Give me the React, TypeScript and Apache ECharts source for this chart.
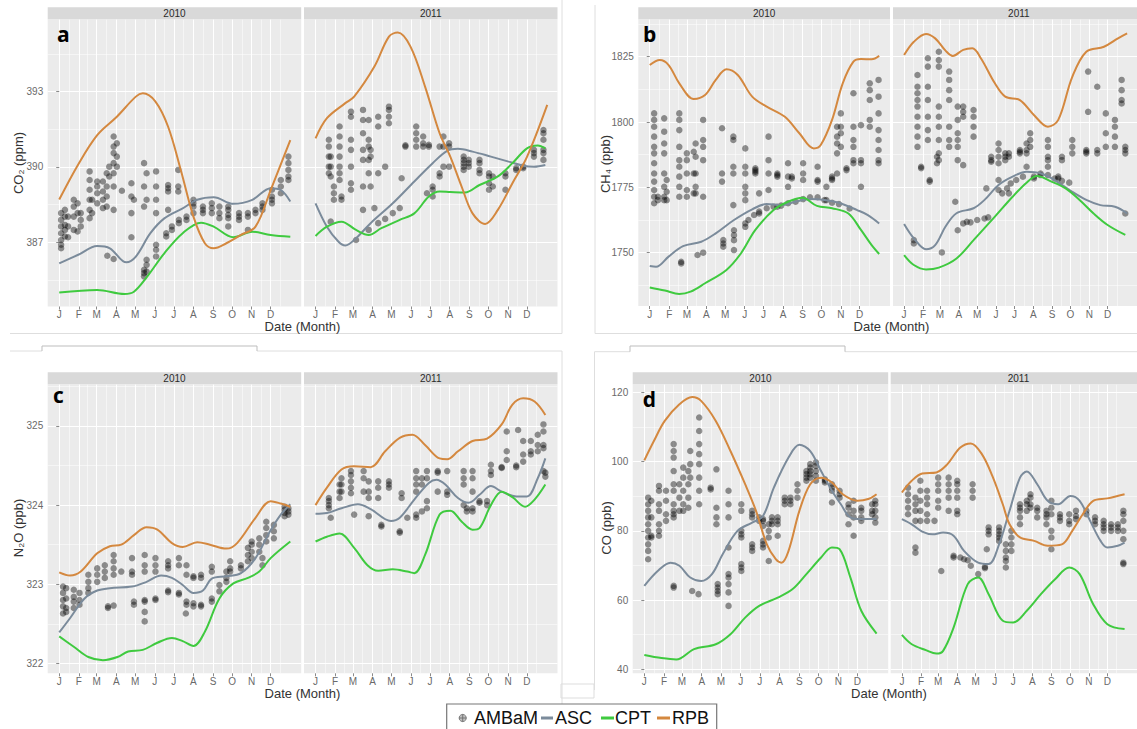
import React, { useEffect, useRef } from "react";
import * as echarts from "echarts";

// ---------- axis vocab ----------
const MONTH_LABELS = ["J", "F", "M", "A", "M", "J", "J", "A", "S", "O", "N", "D"];
const MONTH_DAYS = [0, 31, 59, 90, 120, 151, 181, 212, 243, 273, 304, 334];
const MINOR_DAYS = [15.5, 45, 74.5, 105, 135.5, 166, 196.5, 227.5, 258, 288.5, 319, 349];
const YEARS = ["2010", "2011"];

const CO2_TICKS = [387, 390, 393];
const CO2_MINOR = [385.5, 388.5, 391.5, 394.5];
const CH4_TICKS = [1750, 1775, 1800, 1825];
const CH4_MINOR = [1737.5, 1762.5, 1787.5, 1812.5, 1837.5];
const N2O_TICKS = [322, 323, 324, 325];
const N2O_MINOR = [322.5, 323.5, 324.5, 325.5];
const CO_TICKS = [40, 60, 80, 100, 120];
const CO_MINOR = [50, 70, 90, 110];

// ---------- CO2 ----------
const CO2_2010_ASC = [[0,386.16],[30,386.5],[60,386.85],[80,386.76],[106,386.2],[121,386.43],[144,387.36],[166,387.95],[195,388.35],[218,388.69],[244,388.79],[275,388.53],[305,388.69],[334,389.15],[350,389.08],[365,388.62]];
const CO2_2010_CPT = [[0,385.0],[60,385.1],[103,384.94],[118,385.03],[138,385.6],[166,386.56],[195,387.36],[224,387.78],[244,387.62],[275,387.2],[305,387.42],[334,387.29],[365,387.22]];
const CO2_2010_RPB = [[0,388.7],[30,390.1],[60,391.27],[91,392.0],[121,392.8],[132,392.93],[152,392.6],[172,391.6],[192,389.88],[212,388.02],[230,386.96],[244,386.76],[264,386.96],[287,387.29],[310,387.62],[334,389.08],[365,391.07]];
const CO2_2011_ASC = [[0,388.55],[18,387.62],[36,387.03],[47,386.87],[64,387.16],[87,387.76],[122,388.55],[156,389.42],[185,390.15],[208,390.64],[225,390.72],[248,390.61],[277,390.41],[305,390.21],[328,390.05],[345,390.01],[363,390.08]];
const CO2_2011_CPT = [[0,387.25],[18,387.62],[41,387.82],[64,387.49],[84,387.29],[104,387.56],[133,387.89],[156,388.15],[179,388.82],[196,389.02],[213,389.0],[236,388.98],[259,389.28],[288,389.62],[311,390.15],[334,390.74],[351,390.85],[363,390.74]];
const CO2_2011_RPB = [[0,391.14],[18,391.94],[47,392.54],[61,392.8],[93,394.0],[116,395.19],[130,395.35],[150,394.79],[173,393.2],[196,391.34],[213,390.4],[231,389.2],[248,388.15],[268,387.73],[288,388.29],[311,389.35],[334,390.4],[366,392.47]];
const CO2_2010_AMBAM = [
  [3,[388.16,387.89,387.63,387.36,387.09,386.9,386.76]],[9,[388.29,388.02,387.69,387.49,387.23]],[14,[388.02,387.63,387.2]],
  [23,[388.69,388.42,388.02,387.49]],[29,[388.55,388.16,387.43]],[34,[388.16,387.89,387.63]],
  [48,[389.82,389.48,389.09,388.69,388.29,387.96]],[52,[388.69,388.16]],[60,[389.42,389.22,388.95,388.55]],
  [69,[389.42,389.02,388.69,388.36]],[75,[389.75,389.22,388.82,388.42]],[79,[390.01,389.62]],
  [86,[391.21,390.81,390.55,390.15,389.75,389.22,388.29,386.33]],[91,[390.94,390.41,390.01]],[99,[389.05]],
  [114,[389.35,388.82,388.16,387.2]],[118,[388.69]],[134,[390.15,389.22,388.42,385.9,385.77,385.64]],
  [138,[389.75,388.69,386.3,386.1,385.83]],[153,[389.82,389.22,388.69,388.16,386.9,386.7,386.43]],
  [172,[389.28,389.15,389.02,388.29]],[188,[389.88,389.22,389.02]],[169,[387.36,387.23]],[178,[387.63,387.49]],
  [189,[387.89,387.76]],[201,[388.02,387.89]],[212,[388.69,388.55,388.42,388.16]],[227,[388.42,388.29,388.16]],
  [241,[388.55,388.36,388.16]],[253,[388.42,388.16,387.96]],[267,[388.42,388.29,388.09,387.96,387.63]],
  [284,[388.16,388.02,387.89]],[298,[388.16,388.02,387.49]],[310,[388.29,388.16]],[321,[388.55,388.42,388.29]],
  [336,[389.09,388.82,388.69,388.55]],[350,[389.48,389.22,388.95]],[362,[390.41,390.15,389.88,389.62,389.48]],
  [76,[386.46]]
];
const CO2_2011_AMBAM = [
  [21,[391.08,390.81,390.41,390.01,389.75]],[24,[390.41,390.01,389.62,387.82]],[29,[389.22,388.95,388.69]],
  [38,[391.61,391.21,390.81,390.41,390.01,389.75,389.48]],[41,[388.82,388.69]],
  [56,[392.2,392.0,391.08,390.68,390.01,389.35,389.09]],[75,[392.27,391.87,391.34,390.68,390.28,389.22,388.29]],
  [84,[391.87,391.08,390.81,390.28,389.75,387.49]],[87,[390.68,390.41,389.22]],[99,[392.0,391.61,389.75,387.76]],
  [116,[392.4,392.27,392.0,391.74]],[110,[390.01,387.93]],[136,[389.55]],[142,[390.86,390.81]],
  [159,[391.61,391.34,391.08,390.81]],[170,[391.21,390.94,390.81]],[179,[390.88,390.81]],[185,[389.22,389.09,388.82]],
  [176,[388.95]],[196,[390.81,389.75,389.62]],[202,[391.21,390.81,390.01]],[211,[390.94,390.81,390.01]],
  [234,[390.41,390.28,390.15,390.01,389.88]],[242,[390.28,390.15,390.01]],[259,[390.28,390.15,389.88,389.75]],
  [274,[389.75,389.62,389.35,389.09]],[280,[389.62,389.22]],[300,[389.75,389.62,389.09]],[317,[389.95,389.88]],
  [328,[390.01,389.95]],[345,[390.68,390.55,390.41]],[360,[391.47,391.34,391.08,390.68,390.55,390.28]],
  [64,[387.09]],[122,[388.16]],[133,[388.36]],[93,[388.36]]
];

// ---------- CH4 ----------
const CH4_2010_ASC = [[0,1744.9],[10,1744.6],[30,1748.5],[53,1752.5],[82,1754.2],[105,1757.4],[134,1762.5],[163,1766.6],[186,1768.6],[209,1768.2],[232,1769.5],[255,1770.5],[278,1770.2],[301,1769.1],[330,1766.3],[347,1764.4],[365,1761.2]];
const CH4_2010_CPT = [[0,1736.7],[24,1735.5],[47,1734.2],[65,1735.1],[88,1738.3],[122,1743.4],[145,1749.7],[168,1758.7],[197,1766.3],[220,1769.5],[243,1771.0],[266,1767.9],[290,1767.0],[316,1765.0],[336,1758.7],[353,1752.9],[365,1749.5]];
const CH4_2010_RPB = [[0,1821.8],[16,1823.7],[30,1821.8],[47,1814.8],[70,1808.8],[88,1810.3],[105,1816.1],[122,1820.2],[140,1818.0],[163,1809.7],[186,1805.9],[215,1802.0],[238,1795.7],[261,1789.9],[272,1791.2],[290,1800.8],[307,1814.8],[324,1823.1],[336,1824.1],[353,1824.0],[365,1825.3]];
const CH4_2011_ASC = [[0,1761.0],[16,1755.5],[36,1751.3],[51,1752.9],[68,1760.0],[86,1765.1],[114,1767.0],[132,1770.2],[155,1775.9],[178,1779.1],[201,1781.0],[224,1780.4],[247,1777.8],[276,1773.3],[299,1770.2],[322,1768.2],[346,1767.6],[366,1765.0]];
const CH4_2011_CPT = [[0,1749.1],[16,1745.3],[36,1743.6],[57,1744.3],[86,1747.8],[114,1754.8],[149,1763.8],[178,1771.4],[201,1776.8],[218,1779.3],[242,1777.2],[265,1774.6],[288,1770.2],[311,1765.0],[334,1760.6],[363,1756.8]];
const CH4_2011_RPB = [[0,1825.6],[16,1830.7],[36,1833.7],[51,1832.0],[68,1827.3],[80,1825.3],[97,1827.6],[112,1828.2],[126,1824.4],[149,1814.8],[166,1809.7],[190,1808.4],[213,1802.7],[236,1798.2],[253,1800.8],[276,1817.3],[299,1826.9],[328,1828.8],[351,1832.0],[366,1833.9]];
const CH4_2010_AMBAM = [
  [7,[1803.3,1800.8,1798.2,1794.4,1790.5,1788.0,1784.2,1780.3,1777.2,1774.0,1771.4,1768.9]],[13,[1771.4,1770.1]],
  [23,[1801.4,1796.3,1791.8,1788.0,1780.3,1775.2,1771.4,1770.1]],[27,[1777.8,1773.3,1770.1]],
  [47,[1803.3,1800.8,1796.9,1790.5,1785.4,1782.9,1779.1,1775.2,1771.4]],[59,[1788.0,1785.4,1780.3,1774.0,1771.4]],
  [70,[1788.6,1780.3,1772.7]],[73,[1791.8,1786.7,1780.3,1775.2,1772.7]],[85,[1800.8,1793.1,1790.5,1785.4,1771.4,1750.0]],
  [76,[1749.1]],[50,[1746.5,1745.9]],[115,[1797.6,1780.3,1777.2]],[117,[1754.8,1753.5,1752.3]],
  [133,[1794.4,1793.1,1782.9,1780.3,1768.2]],[134,[1758.6,1756.7,1754.8,1751.0]],
  [152,[1789.9,1782.9,1780.3,1775.2,1772.7,1770.1,1761.2,1759.9]],[168,[1782.3,1781.6,1781.0,1780.3]],
  [174,[1772.7,1765.0,1765.7]],[189,[1794.4,1785.4,1780.3,1774.0]],[203,[1780.3,1779.7,1779.1,1767.6]],
  [220,[1784.2,1779.1,1775.2,1768.9]],[226,[1779.1,1778.4]],[244,[1784.2,1780.3,1777.8,1770.5]],
  [267,[1782.9,1777.8,1777.2,1771.2]],[281,[1775.2,1770.1]],[290,[1779.1,1778.4,1777.8,1769.1]],
  [298,[1798.2,1794.4,1791.8,1788.0,1780.3]],[304,[1803.3,1798.2,1795.7,1790.5]],[313,[1782.3,1781.6]],
  [324,[1811.0,1798.2,1793.1,1790.5,1785.4,1784.2]],[336,[1798.8,1785.4,1784.2,1775.2]],
  [350,[1814.8,1812.2,1808.4,1800.8,1798.2]],[364,[1816.1,1809.7,1803.3,1796.9,1793.1,1789.3,1785.4,1784.2]],
  [157,[1762.5]],[166,[1764.4]],[186,[1767.0]],[197,[1767.6]],[209,[1768.0]],[232,[1769.5]],[255,[1771.2]],
  [278,[1770.1]],[301,[1768.6]],[318,[1766.9]]
];
const CH4_2011_AMBAM = [
  [22,[1818.0,1813.5,1811.0,1808.4,1805.9,1802.0,1798.2,1794.4,1790.5]],[28,[1782.9,1782.3]],
  [39,[1824.4,1821.2,1813.5,1808.4,1802.0,1796.9,1793.1]],[42,[1777.8,1777.2]],
  [57,[1826.9,1823.7,1821.2,1805.9,1802.0,1798.2,1793.1,1788.0,1785.4]],[54,[1786.7,1784.2]],
  [74,[1819.3,1816.1,1812.2,1808.4,1798.2,1793.1,1790.5]],[88,[1805.9,1800.8,1795.7,1793.1,1790.5,1785.4,1758.6]],
  [97,[1805.9,1803.9,1802.0,1783.5,1761.2]],[114,[1804.6,1802.0,1798.2,1794.4]],[84,[1769.5]],[62,[1750.1]],
  [103,[1761.8]],[109,[1761.6]],[120,[1762.5]],[132,[1763.1]],[138,[1763.5]],[135,[1774.6]],
  [143,[1786.7,1785.4,1784.8]],[155,[1791.8,1789.3,1786.7,1784.2,1777.8,1774.0]],[166,[1788.0,1786.7,1785.4]],
  [172,[1788.0,1786.7,1772.7]],[190,[1789.3,1788.6,1788.0]],[201,[1791.8,1789.3,1788.0,1782.9]],
  [207,[1795.7,1793.1,1790.5]],[213,[1779.1,1778.4]],[224,[1780.3,1779.7]],
  [236,[1793.1,1790.5,1786.7,1785.4,1782.9,1779.7]],[253,[1779.1,1778.4]],[259,[1786.7,1785.4,1777.5]],
  [276,[1793.1,1790.5,1788.0]],[302,[1819.3,1803.9]],[317,[1813.5,1789.3,1788.0]],[299,[1789.3,1788.6,1788.0]],
  [331,[1803.3,1795.7,1790.5]],[346,[1800.8,1798.2,1794.4,1790.5]],[357,[1816.1,1812.2,1808.4,1807.1]],
  [363,[1790.5,1789.3,1788.0,1765.0]],[161,[1772.7]],[169,[1774.6]],[175,[1776.5]],[184,[1777.8]],[195,[1779.1]],
  [247,[1778.4]],[271,[1776.8]],[16,[1754.8,1753.5]]
];

// ---------- N2O ----------
const N2O_2010_ASC = [[0,322.39],[17,322.57],[40,322.82],[60,322.92],[80,322.95],[115,322.97],[138,323.03],[161,323.11],[178,323.08],[195,322.99],[212,322.89],[227,322.92],[241,323.07],[264,323.1],[287,323.14],[310,323.33],[333,323.67],[350,323.88],[365,324.01]];
const N2O_2010_CPT = [[0,322.34],[23,322.21],[46,322.08],[69,322.04],[92,322.08],[109,322.15],[132,322.17],[155,322.26],[178,322.32],[195,322.28],[212,322.22],[230,322.4],[253,322.82],[275,323.01],[298,323.08],[316,323.16],[334,323.33],[365,323.54]];
const N2O_2010_RPB = [[0,323.15],[17,323.11],[34,323.16],[60,323.39],[80,323.48],[98,323.5],[118,323.62],[138,323.72],[155,323.69],[178,323.52],[195,323.47],[218,323.53],[238,323.5],[264,323.45],[281,323.52],[310,323.84],[334,324.05],[350,324.02],[365,323.98]];
const N2O_2011_ASC = [[0,323.89],[18,323.9],[41,323.96],[67,324.01],[87,323.95],[119,323.8],[133,323.84],[156,324.07],[179,324.28],[191,324.32],[205,324.26],[225,324.09],[242,324.03],[259,324.13],[277,324.24],[294,324.17],[317,324.11],[334,324.11],[351,324.34],[363,324.59]];
const N2O_2011_CPT = [[0,323.54],[18,323.6],[38,323.64],[61,323.46],[82,323.24],[99,323.17],[122,323.19],[145,323.16],[156,323.14],[173,323.37],[196,323.88],[213,323.93],[231,323.79],[248,323.69],[259,323.71],[277,324.0],[294,324.17],[311,324.1],[331,323.98],[346,324.07],[363,324.26]];
const N2O_2011_RPB = [[0,324.0],[18,324.22],[41,324.45],[61,324.49],[87,324.48],[110,324.68],[133,324.85],[153,324.89],[173,324.76],[196,324.59],[208,324.58],[225,324.68],[248,324.81],[271,324.84],[294,325.02],[311,325.27],[328,325.35],[346,325.31],[363,325.14]];
const N2O_2010_AMBAM = [
  [6,[322.97,322.89,322.8,322.72,322.63]],[11,[322.95,322.82,322.7,322.65]],[23,[322.93,322.84,322.78,322.7]],
  [32,[322.89,322.8,322.74]],[46,[323.12,323.03,322.95,322.89]],[60,[323.2,323.12,323.03]],[72,[323.24,323.16,323.08]],
  [86,[323.37,323.29,323.2,323.12,322.73]],[98,[323.16]],[77,[322.72,322.7]],[115,[323.33,323.16,323.12]],
  [118,[322.78,322.74]],[135,[323.37,323.24,323.16,322.8,322.78,322.65,322.53]],[152,[323.33,323.24,323.16,322.82,322.8]],
  [172,[323.29,323.24,323.2,322.92,322.9]],[189,[323.33,323.24,322.89,322.87]],[201,[323.24,323.12,322.78,322.74]],
  [212,[323.1,323.08,322.76,322.72]],[224,[323.12,323.08,322.74,322.72]],[241,[323.22,323.16,322.82,322.78]],
  [253,[322.99,322.91]],[264,[323.16,323.08,323.03]],[270,[323.29,323.2,323.16]],[287,[323.24,323.2]],
  [298,[323.46,323.37,323.29]],[304,[323.54,323.5,323.41,323.33]],[316,[323.58,323.5,323.41]],[321,[323.33,323.24]],
  [327,[323.79,323.71,323.62,323.54]],[339,[323.75,323.67,323.58]],[356,[323.98,323.94,323.9,323.86]],
  [362,[323.96,323.92,323.88]],[200,[322.63]]
];
const N2O_2011_AMBAM = [
  [21,[324.09,324.05,324.0,323.96]],[24,[323.84]],[38,[324.26,324.17,324.09]],[41,[324.34,324.26,324.17]],
  [56,[324.43,324.38,324.3,324.22,324.15]],[61,[323.88]],[76,[324.43,324.34,324.17]],[84,[324.3,324.17,324.09,323.86]],
  [99,[324.3,324.22,324.09]],[104,[323.75,323.73]],[116,[324.3,324.26,324.22]],[133,[323.67,323.65]],
  [136,[324.15,324.09]],[145,[323.84]],[159,[324.43,324.34,324.26,324.17,323.88,323.84]],[168,[324.34,324.26,323.92]],
  [176,[324.43,324.34,324.05,323.96]],[193,[324.43,324.41,324.17]],[208,[324.43,324.17,324.13]],
  [234,[324.43,324.34,324.26,324.0]],[239,[323.96,323.92]],[248,[324.43,324.34,324.17,323.96,323.92]],
  [259,[324.05,324.03]],[271,[324.05,324.0]],[277,[324.51,324.43,324.38]],[294,[324.48,324.47]],
  [302,[324.93,324.68,324.57]],[317,[324.5,324.48]],[320,[324.95]],[328,[324.81,324.64,324.55]],
  [340,[324.81,324.68,324.64]],[351,[324.89,324.76,324.68]],[360,[325.02,324.93,324.76,324.72,324.43]],
  [363,[324.41,324.36]]
];

// ---------- CO ----------
const CO_2010_ASC = [[0,64.1],[21,68.4],[41,70.8],[55,69.9],[72,66.5],[89,65.5],[106,67.5],[123,73.3],[146,80.0],[169,82.4],[186,84.3],[203,92.5],[226,101.2],[243,104.9],[260,103.1],[277,97.3],[294,91.6],[308,87.7],[323,83.9],[340,83.4],[364,83.4]];
const CO_2010_CPT = [[0,44.1],[27,43.2],[50,42.8],[78,45.8],[112,47.2],[135,50.1],[158,54.9],[180,58.3],[209,60.7],[232,63.1],[254,67.5],[277,72.3],[294,75.2],[306,74.7],[323,66.5],[340,56.9],[364,50.3]];
const CO_2010_RPB = [[0,100.4],[15,106.0],[32,111.8],[55,116.6],[75,118.7],[89,117.6],[112,111.8],[135,103.1],[158,93.5],[175,85.8],[192,76.1],[206,71.8],[215,70.8],[226,74.2],[243,85.8],[260,93.5],[277,95.4],[294,94.0],[311,90.6],[334,88.7],[351,89.2],[364,90.6]];
const CO_2011_ASC = [[0,83.4],[16,81.9],[33,79.8],[50,79.0],[67,79.5],[84,78.6],[101,74.2],[124,70.8],[141,70.4],[158,76.1],[175,85.8],[192,95.4],[203,97.2],[220,93.5],[237,88.7],[254,87.7],[274,90.1],[289,88.7],[306,82.9],[323,77.1],[334,75.2],[351,75.7],[362,76.6]];
const CO_2011_CPT = [[0,49.9],[16,47.2],[39,45.5],[56,44.5],[67,45.3],[84,52.0],[107,64.6],[124,66.5],[141,61.7],[164,54.0],[181,53.5],[203,56.9],[226,61.7],[249,66.0],[272,69.4],[289,67.5],[311,58.8],[334,53.0],[362,51.6]];
const CO_2011_RPB = [[0,91.1],[16,94.5],[33,96.6],[56,96.9],[73,99.1],[95,104.1],[112,105.3],[130,102.2],[147,95.9],[164,87.7],[175,81.9],[192,78.1],[215,77.1],[237,75.7],[260,76.1],[277,80.0],[294,84.8],[311,88.7],[334,89.4],[362,90.6]];
const CO_2010_AMBAM = [
  [6,[89.6,87.7,85.8,83.9,81.9,80.0,78.1,76.1,74.2,71.8]],[11,[88.7,83.9,78.6,78.1]],[23,[93.0,91.6,87.7,85.8,81.9,80.0,78.6]],
  [34,[91.6,88.7,84.8,82.9]],[46,[105.1,103.1,101.2,97.3,93.5,91.6,87.7,85.8,84.8,83.9,64.1,63.6]],[55,[93.5,89.6,85.8]],
  [61,[98.3,95.4,91.6,87.7,85.8]],[69,[97.3,93.5,89.6,86.7]],[72,[103.1,99.3,95.4]],
  [86,[112.8,108.9,105.1,102.2,99.3,95.4,91.6,87.7]],[75,[62.6]],[85,[61.7]],[104,[92.5,92.0]],
  [113,[97.8,86.7,83.9,81.9]],[115,[64.6,63.6,62.6,61.7]],[132,[91.6,87.7,83.9,75.2,67.5,66.5,64.6,62.2,58.3]],
  [152,[87.7,85.8,80.0,79.0,78.1,70.4,69.4,68.4]],[169,[85.8,84.8,83.9,76.1,75.2,74.2]],[180,[83.9,82.9]],
  [186,[83.4,82.9,81.4,77.1,76.1,75.2]],[195,[81.9,80.0,78.1,71.3]],[200,[83.9,82.9,81.9]],[209,[83.9,82.9,81.9,78.6]],
  [220,[89.6,88.7,87.7]],[229,[89.6,88.7,87.7]],[240,[93.5,91.6,89.6]],[254,[97.3,96.4,95.4,94.5]],
  [260,[99.3,98.3,97.3,96.4,95.4]],[269,[99.8,98.8,97.3,95.9,94.5]],[283,[94.9,94.5,94.0]],[294,[93.5,92.5,91.6,88.2]],
  [306,[91.6,90.6,89.6]],[320,[87.7,86.7,84.8,81.9]],[328,[88.7,85.8,83.9,78.6]],[340,[86.7,85.8,83.9,82.9]],
  [357,[87.7,85.8,84.8]],[362,[88.7,87.7,85.8,83.9,82.4]]
];
const CO_2011_AMBAM = [
  [10,[92.5,90.6,88.7,86.7,84.8]],[22,[89.6,87.7,85.8,82.9,75.2,73.7]],[30,[94.5,91.6,88.7,85.8,82.9]],
  [41,[91.6,89.6,87.7,84.8,82.9]],[59,[95.4,93.5,91.6,88.7,86.7]],[53,[82.9]],[64,[68.4]],
  [76,[95.4,93.5,91.6,89.6,85.8]],[90,[94.5,93.5,91.6,89.6,85.8,84.8]],[84,[72.8,72.3]],[95,[72.3]],[101,[71.8]],
  [107,[71.5]],[115,[93.5,91.6,89.6]],[112,[69.9]],[124,[67.5]],[135,[69.6,69.2]],[138,[74.7]],[141,[81.0,80.0,79.0]],
  [158,[81.0,80.0,79.0,78.1,77.1]],[169,[76.1,74.2,72.3,71.3,69.4]],[178,[80.0,78.1,76.1,74.2]],
  [192,[87.7,86.7,85.8,83.9,81.9]],[203,[88.7,87.7,85.8]],[209,[90.6,89.6,87.7,86.7]],[220,[86.7,85.8,83.9]],
  [235,[85.8,84.8,83.9,81.9]],[243,[88.7,86.7,84.8,80.0,78.1,74.7]],[257,[84.8,83.9,82.9]],[272,[84.8,82.9,81.9]],
  [283,[85.8,84.3,83.4]],[300,[85.8,84.8]],[314,[83.9,82.9,81.9]],[328,[82.9,81.9,81.0,80.0]],[340,[81.9,81.0,80.0]],
  [351,[81.9,81.0,80.0]],[360,[85.8,84.8,82.9,80.0,77.6,70.8,70.4]]
];

// ---------- styling ----------
const C_ASC = "#7b8b9b";
const C_CPT = "#3fca3f";
const C_RPB = "#d4883f";
const FONT = '"Liberation Sans", Arial, sans-serif';
const X_MIN = -18.2;
const X_MAX = 382.2;

const PANELS = [
  { letter: "a", title: "CO\u2082 (ppm)", top: 19.3, height: 287.2, lefts: [47.7, 304], width: 253.5, ymin: 384.44, ymax: 395.88, ticks: CO2_TICKS, minor: CO2_MINOR,
    data: [[CO2_2010_AMBAM, CO2_2010_ASC, CO2_2010_CPT, CO2_2010_RPB], [CO2_2011_AMBAM, CO2_2011_ASC, CO2_2011_CPT, CO2_2011_RPB]],
    letterPos: [57, 33.5], titlePos: [18, 163], xTitlePos: [302.5, 326] },
  { letter: "b", title: "CH\u2084 (ppb)", top: 19.3, height: 286.7, lefts: [638.3, 893], width: 251.7, ymin: 1729.6, ymax: 1839.3, ticks: CH4_TICKS, minor: CH4_MINOR,
    data: [[CH4_2010_AMBAM, CH4_2010_ASC, CH4_2010_CPT, CH4_2010_RPB], [CH4_2011_AMBAM, CH4_2011_ASC, CH4_2011_CPT, CH4_2011_RPB]],
    letterPos: [643, 33.5], titlePos: [605, 164], xTitlePos: [891.5, 326.5] },
  { letter: "c", title: "N\u2082O (ppb)", top: 384.3, height: 289, lefts: [47.7, 304], width: 253.5, ymin: 321.874, ymax: 325.527, ticks: N2O_TICKS, minor: N2O_MINOR,
    data: [[N2O_2010_AMBAM, N2O_2010_ASC, N2O_2010_CPT, N2O_2010_RPB], [N2O_2011_AMBAM, N2O_2011_ASC, N2O_2011_CPT, N2O_2011_RPB]],
    letterPos: [53, 395], titlePos: [18, 528], xTitlePos: [302.5, 693.5] },
  { letter: "d", title: "CO (ppb)", top: 384.3, height: 289, lefts: [632.7, 890.7], width: 255.5, ymin: 38.8, ymax: 122.4, ticks: CO_TICKS, minor: CO_MINOR,
    data: [[CO_2010_AMBAM, CO_2010_ASC, CO_2010_CPT, CO_2010_RPB], [CO_2011_AMBAM, CO_2011_ASC, CO_2011_CPT, CO_2011_RPB]],
    letterPos: [642.7, 399], titlePos: [606, 528], xTitlePos: [889, 693.5] },
];

function flatten(cols: any[]) {
  const out: number[][] = [];
  cols.forEach(([d, vs]: [number, number[]]) => vs.forEach((v) => out.push([d, v])));
  return out;
}

function buildOption() {
  const grid: any[] = [];
  const xAxis: any[] = [];
  const yAxis: any[] = [];
  const series: any[] = [];
  const graphic: any[] = [];
  let gi = 0;
  PANELS.forEach((p) => {
    p.lefts.forEach((left, fi) => {
      grid.push({ left, top: p.top, width: p.width, height: p.height, show: true, backgroundColor: "#EBEBEB", borderWidth: 0 });
      xAxis.push({
        type: "value", gridIndex: gi, min: X_MIN, max: X_MAX, position: "bottom",
        axisLine: { show: false },
        axisTick: { show: true, length: 3, customValues: MONTH_DAYS, lineStyle: { color: "#8a8a8a", width: 1 } },
        axisLabel: { show: true, customValues: MONTH_DAYS, margin: 3, color: "#6a6a6a", fontSize: 10, fontFamily: FONT,
          formatter: (v: number) => { const k = MONTH_DAYS.indexOf(Math.round(v)); return k >= 0 ? MONTH_LABELS[k] : ""; } },
        splitLine: { show: true, lineStyle: { color: "#ffffff", width: 1 } },
      });
      xAxis.push({
        type: "value", gridIndex: gi, min: X_MIN, max: X_MAX, position: "bottom",
        axisLine: { show: false }, axisTick: { show: false, customValues: MINOR_DAYS }, axisLabel: { show: false },
        splitLine: { show: true, lineStyle: { color: "#ffffff", width: 0.5 } },
      });
      const showY = fi === 0;
      yAxis.push({
        type: "value", gridIndex: gi, min: p.ymin, max: p.ymax, position: "left",
        axisLine: { show: false },
        axisTick: { show: showY, length: 3, customValues: p.ticks, lineStyle: { color: "#8a8a8a", width: 1 } },
        axisLabel: { show: showY, customValues: p.ticks, margin: 4.5, color: "#6a6a6a", fontSize: 10, fontFamily: FONT,
          formatter: (v: number) => String(Math.round(v)) },
        splitLine: { show: true, lineStyle: { color: "#ffffff", width: 1 } },
      });
      yAxis.push({
        type: "value", gridIndex: gi, min: p.ymin, max: p.ymax, position: "left",
        axisLine: { show: false }, axisTick: { show: false, customValues: p.minor }, axisLabel: { show: false },
        splitLine: { show: true, lineStyle: { color: "#ffffff", width: 0.5 } },
      });
      const [pts, asc, cpt, rpb] = p.data[fi] as any[];
      const xi = gi * 2, yi = gi * 2;
      series.push({ type: "scatter", name: "AMBaM", xAxisIndex: xi, yAxisIndex: yi, data: flatten(pts), symbolSize: 6.5,
        itemStyle: { color: "rgba(0,0,0,0.52)" }, z: 2, silent: true });
      [[asc, C_ASC, "ASC"], [cpt, C_CPT, "CPT"], [rpb, C_RPB, "RPB"]].forEach(([d, c, n]: any) => {
        series.push({ type: "line", name: n, xAxisIndex: xi, yAxisIndex: yi, data: d, smooth: 0.35, showSymbol: false, symbol: "none",
          lineStyle: { color: c, width: 2 }, itemStyle: { color: c }, z: 3, silent: true });
      });
      graphic.push({ type: "rect", z: 50, shape: { x: left, y: p.top - 12, width: p.width, height: 12 }, style: { fill: "#D9D9D9" } });
      graphic.push({ type: "text", z: 51, x: left + p.width / 2, y: p.top - 6,
        style: { text: YEARS[fi], fill: "#2a2a2a", fontSize: 10, fontFamily: FONT, align: "center", verticalAlign: "middle", textAlign: "center", textVerticalAlign: "middle" } });
      gi++;
    });
    graphic.push({ type: "text", z: 60, x: p.letterPos[0], y: p.letterPos[1],
      style: { text: p.letter, fill: "#000", fontSize: 21, fontWeight: "bold", fontFamily: '"Open Sans", sans-serif', align: "left", verticalAlign: "middle", textAlign: "left", textVerticalAlign: "middle" } });
    graphic.push({ type: "text", z: 60, x: p.titlePos[0], y: p.titlePos[1], rotation: Math.PI / 2,
      style: { text: p.title, fill: "#333", fontSize: 13, fontFamily: FONT, align: "center", verticalAlign: "middle", textAlign: "center", textVerticalAlign: "middle" } });
    graphic.push({ type: "text", z: 60, x: p.xTitlePos[0], y: p.xTitlePos[1],
      style: { text: "Date (Month)", fill: "#333", fontSize: 13, fontFamily: FONT, align: "center", verticalAlign: "middle", textAlign: "center", textVerticalAlign: "middle" } });
  });

  const frame = { stroke: "#dedede", lineWidth: 1, fill: "none" };
  const bracket = { stroke: "#bdbdbd", lineWidth: 1, fill: "none" };
  graphic.push(
    { type: "polyline", z: 40, shape: { points: [[10, 333.5], [562, 333.5], [562, 0]] }, style: frame },
    { type: "polyline", z: 40, shape: { points: [[595, 5], [595, 333.5], [1137, 333.5]] }, style: frame },
    { type: "polyline", z: 40, shape: { points: [[10, 351], [42, 351]] }, style: frame },
    { type: "polyline", z: 40, shape: { points: [[257, 351], [562, 351], [562, 729]] }, style: frame },
    { type: "polyline", z: 40, shape: { points: [[42, 351], [42, 346], [257, 346], [257, 351]] }, style: bracket },
    { type: "polyline", z: 40, shape: { points: [[594.5, 690], [594.5, 351.7], [630, 351.7]] }, style: frame },
    { type: "polyline", z: 40, shape: { points: [[845, 351.7], [1137, 351.7]] }, style: frame },
    { type: "polyline", z: 40, shape: { points: [[630, 351.7], [630, 346], [845, 346], [845, 351.7]] }, style: bracket },
    { type: "rect", z: 40, shape: { x: 561, y: 684, width: 33, height: 14 }, style: { stroke: "#dddddd", fill: "none", lineWidth: 1 } }
  );
  const ly = 718;
  const ltxt = (x: number, t: string) => ({ type: "text", z: 71, x, y: ly,
    style: { text: t, fill: "#111", fontSize: 18, fontFamily: FONT, align: "left", verticalAlign: "middle", textAlign: "left", textVerticalAlign: "middle" } });
  graphic.push(
    { type: "rect", z: 70, shape: { x: 446.7, y: 704, width: 270, height: 32 }, style: { fill: "#fff", stroke: "#777", lineWidth: 1.2 } },
    { type: "circle", z: 71, shape: { cx: 462.7, cy: ly, r: 3.6 }, style: { fill: "rgba(0,0,0,0.25)", stroke: "#666", lineWidth: 0.8 } },
    { type: "line", z: 72, shape: { x1: 459.1, y1: ly, x2: 466.3, y2: ly }, style: { stroke: "#666", lineWidth: 0.8 } },
    { type: "line", z: 72, shape: { x1: 462.7, y1: ly - 3.6, x2: 462.7, y2: ly + 3.6 }, style: { stroke: "#666", lineWidth: 0.8 } },
    ltxt(474, "AMBaM"),
    { type: "line", z: 71, shape: { x1: 541, y1: ly, x2: 553, y2: ly }, style: { stroke: C_ASC, lineWidth: 3 } },
    ltxt(555, "ASC"),
    { type: "line", z: 71, shape: { x1: 601, y1: ly, x2: 614, y2: ly }, style: { stroke: C_CPT, lineWidth: 3 } },
    ltxt(615, "CPT"),
    { type: "line", z: 71, shape: { x1: 657, y1: ly, x2: 670, y2: ly }, style: { stroke: C_RPB, lineWidth: 3 } },
    ltxt(672, "RPB")
  );

  return {
    animation: false,
    backgroundColor: "#ffffff",
    textStyle: { fontFamily: FONT },
    grid, xAxis, yAxis, series, graphic,
  };
}

export default function App() {
  const ref = useRef<HTMLDivElement>(null);
  useEffect(() => {
    if (!ref.current) return;
    const chart = echarts.init(ref.current, undefined, { renderer: "svg" });
    chart.setOption(buildOption() as any);
    return () => chart.dispose();
  }, []);
  return <div ref={ref} style={{ position: "fixed", left: 0, top: 0, width: 1137, height: 729, background: "#fff" }} />;
}
